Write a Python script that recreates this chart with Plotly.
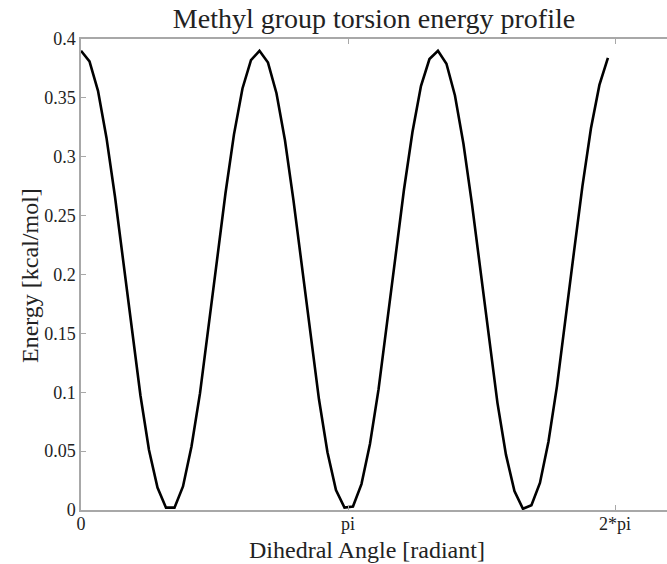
import plotly.graph_objects as go

# Dihedral angle samples [rad] and torsion energy [kcal/mol]
angle = [0.0, 0.1, 0.2, 0.3, 0.4, 0.5, 0.6, 0.7, 0.8, 0.9,
         1.0, 1.1, 1.2, 1.3, 1.4, 1.5, 1.6, 1.7, 1.8, 1.9,
         2.0, 2.1, 2.2, 2.3, 2.4, 2.5, 2.6, 2.7, 2.8, 2.9,
         3.0, 3.1, 3.2, 3.3, 3.4, 3.5, 3.6, 3.7, 3.8, 3.9,
         4.0, 4.1, 4.2, 4.3, 4.4, 4.5, 4.6, 4.7, 4.8, 4.9,
         5.0, 5.1, 5.2, 5.3, 5.4, 5.5, 5.6, 5.7, 5.8, 5.9,
         6.0, 6.1, 6.2]
energy = [0.390, 0.381, 0.356, 0.316, 0.266, 0.209, 0.151, 0.097, 0.051, 0.019,
          0.002, 0.002, 0.020, 0.054, 0.099, 0.154, 0.212, 0.269, 0.319, 0.358,
          0.382, 0.390, 0.380, 0.354, 0.314, 0.263, 0.206, 0.148, 0.094, 0.049,
          0.017, 0.002, 0.003, 0.022, 0.056, 0.102, 0.157, 0.215, 0.272, 0.321,
          0.360, 0.383, 0.390, 0.379, 0.352, 0.311, 0.260, 0.202, 0.144, 0.091,
          0.047, 0.016, 0.001, 0.004, 0.023, 0.058, 0.105, 0.160, 0.219, 0.275,
          0.324, 0.361, 0.384]

x_tick_vals = [0.0, 3.141592653589793, 6.283185307179586]
x_tick_text = ["0", "pi", "2*pi"]
y_tick_vals = [0, 0.05, 0.1, 0.15, 0.2, 0.25, 0.3, 0.35, 0.4]
y_tick_text = ["0", "0.05", "0.1", "0.15", "0.2", "0.25", "0.3", "0.35", "0.4"]

FONT = "Liberation Serif"
TXT = "#222222"
AX = "#a8a8a8"

fig = go.Figure()
fig.add_trace(go.Scatter(x=angle, y=energy, mode="lines",
                         line=dict(color="black", width=2.6),
                         showlegend=False, hoverinfo="skip"))

fig.update_layout(
    width=667, height=564,
    margin=dict(l=81, r=0, t=39, b=54),
    paper_bgcolor="white", plot_bgcolor="white",
    font=dict(family=FONT, size=18, color=TXT),
    title=dict(text="Methyl group torsion energy profile",
               x=0.5, xref="paper", xanchor="center",
               y=1 - 18 / 564, yref="container", yanchor="middle",
               font=dict(family=FONT, size=28, color=TXT)),
    xaxis=dict(range=[0, 6.895], tickmode="array",
               tickvals=x_tick_vals, ticktext=x_tick_text,
               ticks="inside", ticklen=5, tickwidth=1, tickcolor=AX,
               showline=True, linecolor=AX, linewidth=1.5,
               mirror="ticks", showgrid=False, zeroline=False,
               ticklabelstandoff=-3,
               tickfont=dict(family=FONT, size=18, color=TXT)),
    yaxis=dict(range=[0, 0.4], tickmode="array",
               tickvals=y_tick_vals, ticktext=y_tick_text,
               ticks="inside", ticklen=5, tickwidth=1, tickcolor=AX,
               showline=True, linecolor=AX, linewidth=1.5,
               mirror=False, showgrid=False, zeroline=False,
               tickfont=dict(family=FONT, size=18, color=TXT)),
    annotations=[
        dict(text="Dihedral Angle [radiant]", xref="paper", yref="paper",
             x=(367 - 81) / 586, y=(510 - 550) / 471,
             xanchor="center", yanchor="middle", showarrow=False,
             font=dict(family=FONT, size=24, color=TXT)),
        dict(text="Energy [kcal/mol]", xref="paper", yref="paper",
             x=(30 - 81) / 586, y=(510 - 276) / 471, textangle=-90,
             xanchor="center", yanchor="middle", showarrow=False,
             font=dict(family=FONT, size=24, color=TXT)),
    ],
)

fig.write_html("out.html")
